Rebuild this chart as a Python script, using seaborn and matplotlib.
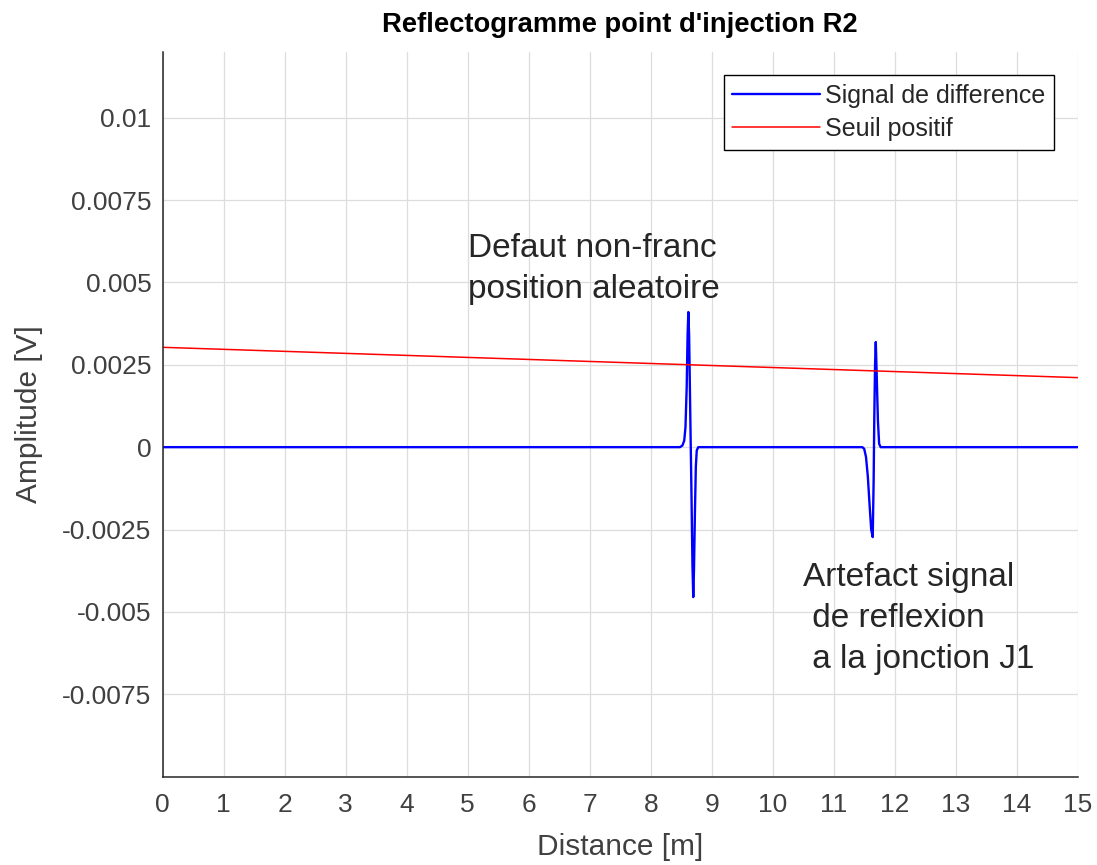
import matplotlib

matplotlib.use("Agg")

import matplotlib.pyplot as plt
import numpy as np
import pandas as pd
import seaborn as sns

# signal de difference (distance in m, amplitude in V)
signal_x = [0.0, 8.48, 8.52, 8.55, 8.57, 8.59, 8.605, 8.617, 8.63, 8.645, 8.657,
            8.67, 8.685, 8.698, 8.71, 8.725, 8.74, 8.755, 8.78,
            11.47, 11.50, 11.53, 11.56, 11.59, 11.615, 11.64, 11.655, 11.665,
            11.678, 11.69, 11.705, 11.725, 11.745, 11.77, 15.0]
signal_y = [0.0, 0.0, 0.00005, 0.0002, 0.0006, 0.0018, 0.0034, 0.0041, 0.0034, 0.0015, 0.0,
            -0.0016, -0.0036, -0.00455, -0.0037, -0.0020, -0.0006, -0.0001, 0.0,
            0.0, -0.00005, -0.0003, -0.0009, -0.0018, -0.0025, -0.00273, -0.0010, 0.0008,
            0.0025, 0.00319, 0.0022, 0.0008, 0.0001, 0.0, 0.0]

# seuil positif (linear threshold)
seuil_x = [0.0, 15.0]
seuil_y = [0.00303, 0.00211]

x_ticks = list(range(0, 16))
y_ticks = [-0.0075, -0.005, -0.0025, 0, 0.0025, 0.005, 0.0075, 0.01]
y_tick_labels = ["-0.0075", "-0.005", "-0.0025", "0", "0.0025", "0.005", "0.0075", "0.01"]

sns.set_theme(style="whitegrid")
plt.rcParams["font.family"] = ["Liberation Sans", "DejaVu Sans"]
plt.rcParams["axes.unicode_minus"] = False

dark = "#262626"
tick_col = "#404040"

fig = plt.figure(figsize=(10.97, 8.65), dpi=100)
ax = fig.add_axes([0.1483, 0.1021, 0.8341, 0.8381])

sig = pd.DataFrame({"x": signal_x, "y": signal_y})
thr = pd.DataFrame({"x": seuil_x, "y": seuil_y})

sns.lineplot(data=sig, x="x", y="y", ax=ax, color="#0000ff", lw=1.7,
             estimator=None, sort=False, label="Signal de difference")
sns.lineplot(data=thr, x="x", y="y", ax=ax, color="#ff0000", lw=1.1,
             estimator=None, sort=False, label="Seuil positif")

ax.set_xlim(0, 15)
ax.set_ylim(-0.01, 0.012)
ax.set_xticks(x_ticks)
ax.set_yticks(y_ticks)
ax.set_yticklabels(y_tick_labels)

ax.set_facecolor("white")
ax.grid(True, color="#dddddd", lw=0.9)
for side in ["top", "right"]:
    ax.spines[side].set_visible(False)
for side in ["left", "bottom"]:
    ax.spines[side].set_visible(True)
    ax.spines[side].set_color(dark)
    ax.spines[side].set_linewidth(1.1)
ax.tick_params(axis="both", direction="in", length=5, width=1.0, color=dark,
               labelsize=19, labelcolor=tick_col)
ax.tick_params(axis="x", pad=12)
ax.tick_params(axis="y", pad=8)

ax.set_xlabel("Distance [m]", fontsize=21.5, color=tick_col, labelpad=11)
ax.set_ylabel("Amplitude [V]", fontsize=21.5, color=tick_col, labelpad=14)
ax.set_title("Reflectogramme point d'injection R2", fontsize=19.7, fontweight="bold",
             color="black", pad=14)

ax.text(5.0, 0.0054, "Defaut non-franc\nposition aleatoire", fontsize=24,
        color=dark, va="center", ha="left", linespacing=1.42)
ax.text(10.5, -0.0052, "Artefact signal\n de reflexion\n a la jonction J1", fontsize=24,
        color=dark, va="center", ha="left", linespacing=1.4)

leg = ax.legend(loc="upper right", bbox_to_anchor=(0.974, 0.968), fontsize=18,
                frameon=True, fancybox=False, framealpha=1, edgecolor="black",
                handlelength=3.5, handletextpad=0.2, labelspacing=0.38,
                borderpad=0.35, borderaxespad=0)
leg.get_frame().set_linewidth(1.0)
for t in leg.get_texts():
    t.set_color(dark)

fig.savefig("out.png", dpi=100)
